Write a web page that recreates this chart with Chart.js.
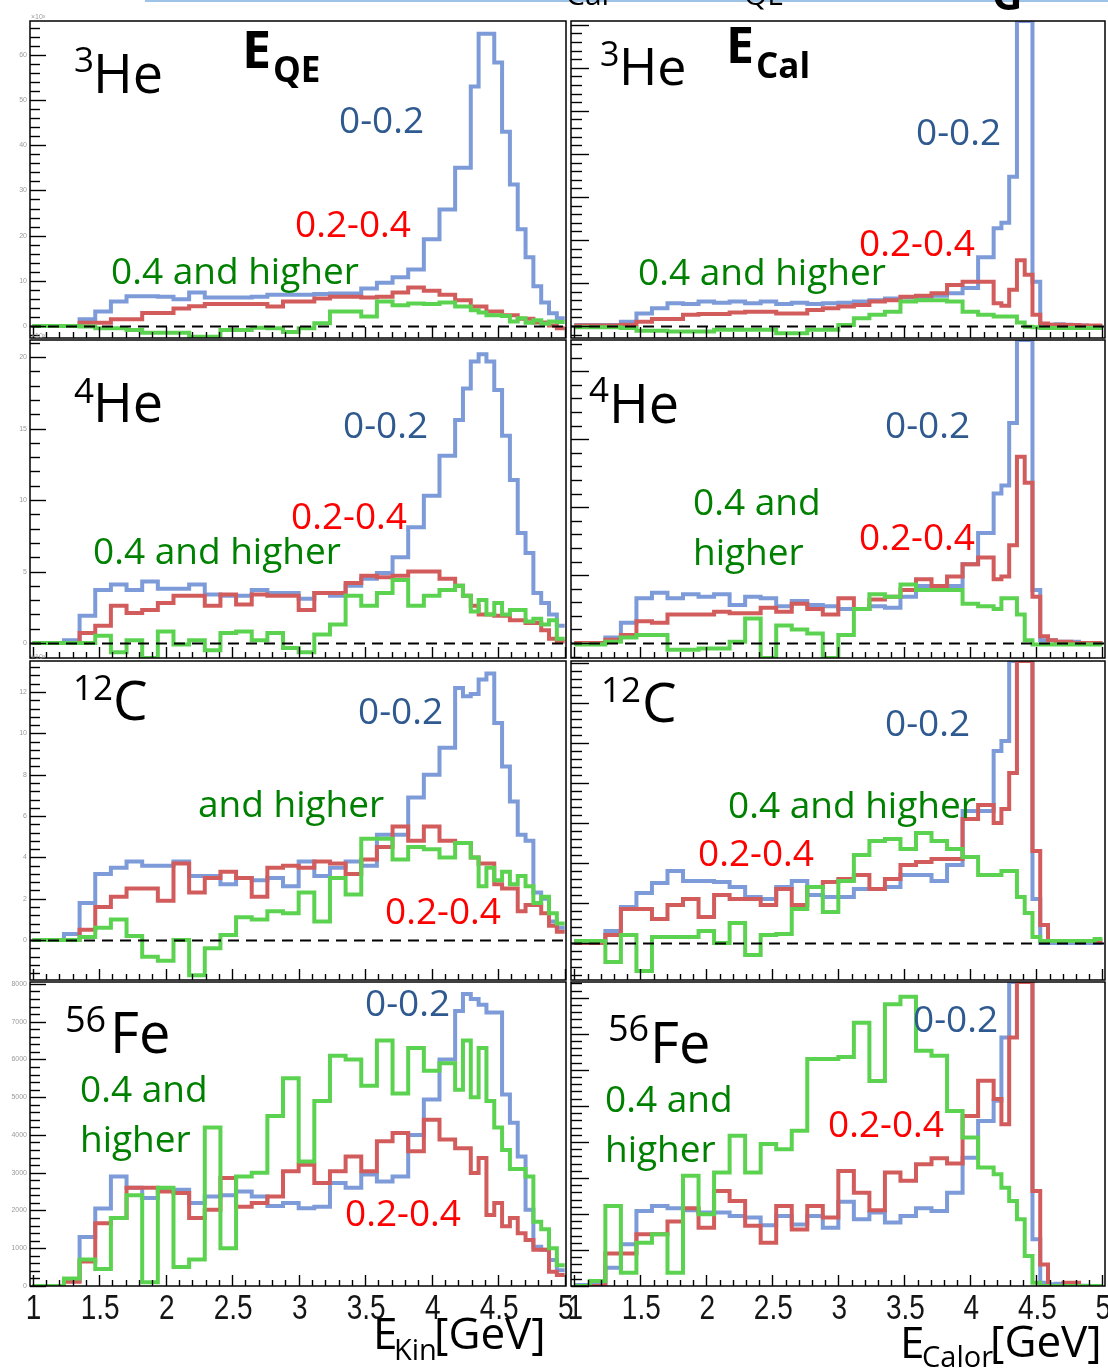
<!DOCTYPE html>
<html><head><meta charset="utf-8">
<script src="https://cdn.jsdelivr.net/npm/chart.js@4.4.1/dist/chart.umd.min.js"></script>
<style>
html,body{margin:0;padding:0;background:#fff;}
body{width:1108px;height:1369px;position:relative;overflow:hidden;}
canvas{position:absolute;left:0;top:0;}
.t{position:absolute;white-space:nowrap;line-height:1;font-family:'Open Sans',sans-serif;}
</style></head><body>
<script>
// ---------- binning (68 equal bins between 1 and 5 GeV) ----------
const X_START = 1.0, X_END = 5.0;

// ---------- data: 3He ----------
const he3QE_lo = [0,0,0,0,0,0,1.5,1.5,3.2,3.2,5.4,5.4,6.6,6.6,6.6,6.6,6.5,6.5,5.9,5.9,7.4,7.4,6.3,6.3,6.3,6.3,6.3,6.3,6.5,6.5,6.9,6.9,6.9,6.9,6.9,6.9,7.1,7.1,7.2,7.2,7.2,7.2,8.3,8.3,9.6,9.6,10.8,10.8,12.5,12.5,19.2,19.2,25.8,25.8,35,35,53,64.7,64.7,58.3,43,31.3,21.4,15.2,8.8,5.2,2.8,1.7];
const he3QE_mid = [0,0,0,0,0,0,0.7,0.7,0.7,0.7,1.5,1.5,1.5,1.5,2.9,2.9,2.9,2.9,3.9,3.9,4.4,4.4,4.9,4.9,4.9,4.9,4.9,4.9,4.9,4.9,4.3,4.3,5.4,5.4,5.4,5.4,6.1,6.1,6.5,6.5,6.5,6.5,6.3,6.3,6.5,6.5,7.4,7.4,8.5,8.5,7.8,7.8,6.9,6.9,5.7,5.7,4.3,4.3,3.2,3.2,2.4,2.4,1.6,1.6,0.8,0.8,0.1,-0.5];
const he3QE_hi = [0,0,0,0,0,0,-0.1,-0.1,-0.5,-0.5,-0.5,-0.5,-0.9,-0.9,-1.5,-1.5,-1.5,-1.5,-1.5,-1.5,-2.4,-2.4,-2.4,-2.4,-0.9,-0.9,-0.9,-0.9,-0.4,-0.4,-0.5,-0.5,-1.3,-1.3,-0.5,-0.5,0.6,0.6,3.2,3.2,3.2,3.2,2.1,2.1,5.4,5.4,4.6,4.6,5.0,5.0,4.9,4.9,5.2,5.2,4.3,4.3,3.5,3.0,2.4,2.4,2.2,1.0,1.7,0.7,1.3,0.5,1.0,0.9];
const he3Cal_lo = [0.2,0.2,0.2,0.2,0.2,0.2,1.0,1.0,2.9,2.9,4.1,4.1,5.3,5.3,5.1,5.1,5.7,5.7,5.4,5.4,5.7,5.7,5.3,5.3,5.7,5.7,5.1,5.1,5.4,5.4,5.1,5.1,5.3,5.3,5.4,5.4,5.7,5.7,6.0,6.0,6.4,6.4,6.6,6.6,6.7,6.7,7.0,7.0,7.6,7.6,8.8,8.8,16,16,22.7,24,34.7,95,95,10.3,0.2,0.3,0.4,0.3,0.2,0.1,0,0];
const he3Cal_mid = [0.1,0.1,0.1,0.1,0.1,0.1,0.3,0.3,1.0,1.0,1.6,1.6,1.6,1.6,2.6,2.6,2.8,2.8,2.8,2.8,3.1,3.1,3.3,3.3,3.3,3.3,2.9,2.9,2.9,2.9,3.7,3.7,4.1,4.1,4.5,4.5,4.9,4.9,5.7,5.7,6.0,6.0,6.8,6.8,7.0,7.0,7.6,7.6,9.5,9.5,10.3,10.3,10.3,10.3,5.3,4.7,8.4,15.3,11.9,2.6,0.6,0.3,0.3,0.2,0.2,0.1,0.1,0.1];
const he3Cal_hi = [-0.3,-0.3,-0.3,-0.3,-0.3,-0.3,-0.5,-0.5,-1.1,-1.1,-1.1,-1.1,-1.3,-1.3,-1.3,-1.3,-1.3,-1.3,-0.9,-0.9,-0.9,-0.9,-0.9,-0.9,-0.9,-0.9,-1.7,-1.7,-1.7,-1.7,-0.9,-0.9,-0.9,-0.9,0.2,0.2,1.8,1.8,2.6,2.6,3.3,3.3,5.7,5.7,6.0,6.0,6.0,6.0,5.7,5.7,3.3,3.3,2.6,2.6,2.2,2.2,2.2,0.8,-0.2,-0.3,-0.5,-0.5,-0.5,-0.5,-0.5,-0.5,-0.5,-0.5];

// ---------- data: 4He ----------
const he4QE_lo = [0,0,0,0,0.2,0.2,1.9,1.9,3.7,3.7,4.1,4.1,3.7,3.7,4.3,4.3,3.8,3.8,3.8,3.8,4.1,4.1,3.4,3.4,3.3,3.3,3.3,3.3,3.7,3.7,3.5,3.5,3.5,3.5,3.1,3.1,3.5,3.5,3.3,3.3,4.0,4.0,4.5,4.5,4.9,4.9,6.0,6.0,8.1,8.1,10.3,10.3,13.1,13.1,15.6,17.8,19.7,20.2,19.7,17.7,14.5,11.4,7.7,6.3,3.5,2.8,2.0,1.2];
const he4QE_mid = [0,0,0,0,0,0,0.7,0.7,1.2,1.2,2.6,2.6,2.1,2.1,2.3,2.3,2.8,2.8,3.3,3.3,3.3,3.3,2.6,2.6,3.4,3.4,2.7,2.7,3.4,3.4,3.3,3.3,3.3,3.3,2.3,2.3,3.5,3.5,3.5,3.5,4.2,4.2,4.7,4.7,4.6,4.6,4.7,4.7,5.0,5.0,5.0,5.0,4.5,4.5,4.0,3.3,2.6,2.0,2.0,1.9,1.9,1.6,1.6,1.4,1.4,0.9,0.3,0.1];
const he4QE_hi = [0,0,0,0,0,0,0,0,0.5,0.5,-0.65,-0.65,0.2,0.2,-1.05,-1.05,0.8,0.8,-0.1,-0.1,0.2,0.2,-0.5,-0.5,0.7,0.7,0.8,0.8,0.2,0.2,0.7,0.7,-0.35,-0.35,-0.65,-0.65,0.6,0.6,1.3,1.3,3.3,3.3,2.6,2.6,3.5,3.5,4.4,4.4,2.6,2.6,3.3,3.3,3.7,3.7,4.0,3.3,2.2,3.0,2.0,2.8,2.0,2.3,2.3,1.5,1.7,1.3,1.6,0.3];
const he4Cal_lo = [0,0,0,0,0.4,0.4,1.5,1.5,3.3,3.3,3.7,3.7,3.3,3.3,3.6,3.6,3.4,3.4,3.6,3.6,2.8,2.8,3.4,3.4,3.3,3.3,2.7,2.7,3.1,3.1,2.8,2.8,2.7,2.7,2.5,2.5,2.5,2.5,2.7,2.7,2.6,2.6,3.4,3.4,4.2,4.2,4.0,4.0,4.2,4.2,5.8,5.8,8.1,8.1,11,11.6,16.2,30,30,3.9,0.2,0.2,0.1,0.1,0.1,0,0,0];
const he4Cal_mid = [0,0,0,0,0.25,0.25,0.6,0.6,1.6,1.6,1.5,1.5,2.1,2.1,2.1,2.1,2.1,2.1,2.3,2.3,2.2,2.2,2.2,2.2,2.6,2.6,2.3,2.3,2.9,2.9,2.5,2.5,2.1,2.1,3.3,3.3,2.5,2.5,3.2,3.2,3.4,3.4,3.9,3.9,4.7,4.7,4.2,4.2,4.9,4.9,5.8,5.8,6.3,6.3,4.7,4.9,7.2,13.7,11.8,3.4,0.5,0.2,0.1,0.1,0,0,0,0];
const he4Cal_hi = [-0.1,-0.1,-0.1,-0.1,0.1,0.1,0.4,0.4,0.6,0.6,0.6,0.6,-0.5,-0.5,-0.5,-0.5,-0.4,-0.4,-0.4,-0.4,0.1,0.1,1.8,1.8,-1.2,-1.2,1.3,1.3,1.0,1.0,0.7,0.7,-1.2,-1.2,0.6,0.6,2.5,2.5,3.6,3.6,3.4,3.4,4.3,4.3,3.9,3.9,3.9,3.9,3.9,3.9,2.9,2.9,2.7,2.7,2.5,3.3,3.3,2.1,0.2,-0.1,-0.1,-0.1,-0.1,-0.1,-0.1,-0.1,-0.1,-0.1];

// ---------- data: 12C ----------
const c12QE_lo = [0,0,0,0,0.3,0.3,1.8,1.8,3.2,3.2,3.5,3.5,3.8,3.8,3.6,3.6,3.6,3.6,3.8,3.8,3.1,3.1,3.1,3.1,2.7,2.7,3.0,3.0,2.9,2.9,3.0,3.0,2.6,2.6,3.8,3.8,3.1,3.1,3.5,3.5,3.8,3.8,3.6,3.6,5.1,5.1,5.1,5.1,6.9,6.9,8.0,8.0,9.3,9.3,12.2,11.8,11.9,12.6,12.9,10.5,8.4,6.7,5.1,4.8,2.3,2.0,0.9,0.6];
const c12QE_mid = [0,0,0,0,0,0,0.5,0.5,1.6,1.6,2.1,2.1,2.5,2.5,2.5,2.5,1.9,1.9,3.7,3.7,2.3,2.3,3.0,3.0,3.3,3.3,3.0,3.0,2.1,2.1,3.5,3.5,3.6,3.6,3.5,3.5,3.8,3.8,3.7,3.7,3.2,3.2,3.9,3.9,4.5,4.5,5.5,5.5,4.8,4.8,5.5,5.5,4.8,4.8,4.7,4.7,4.0,3.7,3.7,2.7,2.5,2.5,1.4,1.7,1.7,1.3,0.7,0.4];
const c12QE_hi = [0,0,0,0,0,0,0.15,0.15,0.6,0.6,1.0,1.0,0.2,0.2,-0.8,-0.8,-1.0,-1.0,0,0,-1.7,-1.7,-0.4,-0.4,0.25,0.25,1.1,1.1,1.0,1.0,1.4,1.4,1.3,1.3,2.3,2.3,0.9,0.9,3.0,3.0,2.2,2.2,4.9,4.9,4.9,4.9,3.9,3.9,4.5,4.5,4.4,4.4,4.0,4.0,4.7,4.7,4.0,2.6,3.5,2.9,3.3,2.7,3.1,2.6,1.8,2.1,1.3,0.8];
const c12Cal_lo = [0.1,0.1,0.1,0.1,0.6,0.6,1.8,1.8,2.5,2.5,3.0,3.0,3.6,3.6,3.1,3.1,3.1,3.1,3.05,3.05,2.8,2.8,2.3,2.3,2.2,2.2,2.8,2.8,3.1,3.1,2.4,2.4,2.3,2.3,2.3,2.3,2.7,2.7,2.7,2.7,2.8,2.8,3.4,3.4,3.4,3.4,3.1,3.1,3.9,3.9,6.6,6.6,6.6,6.6,9.6,10.1,20,20,20,2.2,0,0,0,0,0,0,0,0];
const c12Cal_mid = [0,0,0,0,0.4,0.4,1.7,1.7,1.7,1.7,1.2,1.2,1.9,1.9,2.2,2.2,1.3,1.3,2.4,2.4,2.2,2.2,2.2,2.2,1.9,1.9,2.7,2.7,1.9,1.9,2.8,2.8,3.05,3.05,3.2,3.2,3.4,3.4,2.7,2.7,3.2,3.2,3.9,3.9,4.05,4.05,4.2,4.2,4.2,4.2,6.2,6.2,6.9,6.9,6.0,6.7,8.5,20,20,4.6,0.9,0.1,0.1,0.1,0.1,0.1,0.1,0.1];
const c12Cal_hi = [0.1,0.1,0.1,0.1,-0.95,-0.95,0.4,0.4,-1.4,-1.4,0.3,0.3,0.3,0.3,0.3,0.3,0.6,0.6,0,0,1.0,1.0,-0.6,-0.6,0.4,0.4,0.45,0.45,1.7,1.7,2.8,2.8,1.55,1.55,3.1,3.1,4.4,4.4,5.1,5.1,5.2,5.2,4.7,4.7,5.5,5.5,5.1,5.1,4.7,4.7,4.3,4.3,3.4,3.4,3.4,3.6,3.6,2.3,1.5,0.3,0.1,0.1,0.1,0.1,0.1,0.1,0.1,0.2];

// ---------- data: 56Fe ----------
const fe56QE_lo = [0,0,0,0,150,150,1300,1300,2050,2050,2900,2900,2600,2600,2330,2330,2550,2550,2550,2550,2200,2200,2370,2370,2400,2400,2500,2500,2370,2370,2120,2120,2200,2200,2060,2060,2100,2100,2730,2730,2600,2600,2950,2950,2770,2770,2900,2900,4000,4000,4940,4940,6000,6000,7280,7730,7600,7450,7240,7240,5070,4320,3430,2020,1040,960,690,420];
const fe56QE_mid = [0,0,0,0,110,110,650,650,1660,1660,1800,1800,2600,2600,2600,2600,2500,2500,2460,2460,1800,1800,2020,2020,2860,2860,2100,2100,2200,2200,2370,2370,3040,3040,3210,3210,2730,2730,3040,3040,3430,3430,3040,3040,3830,3830,4050,4050,3570,3570,4400,4400,3880,3880,3650,3650,2990,3390,1880,2200,1580,1800,1400,1220,960,960,380,290];
const fe56QE_hi = [0,0,0,0,200,200,700,700,450,450,1800,1800,2400,2400,100,100,2600,2600,500,500,700,700,4200,4200,1000,1000,2900,2900,3000,3000,4500,4500,5500,5500,3300,3300,4900,4900,6100,6100,6000,6000,5300,5300,6500,6500,5100,5100,6300,6300,5700,5700,5900,5900,5200,6500,5000,6300,4900,4200,3600,3100,3100,2900,1700,1500,1000,550];
const fe56Cal_lo = [30,30,30,30,510,510,1160,1160,2080,2080,2220,2220,2160,2160,2100,2100,2040,2040,2040,2040,1940,1940,1900,1900,1690,1690,1940,1940,1710,1710,1940,1940,1620,1620,2340,2340,1850,1850,2040,2040,1760,1760,1940,1940,2160,2160,2080,2080,2590,2590,3560,3560,4580,4580,5140,6900,12000,12000,12000,1300,90,50,60,40,20,10,0,0];
const fe56Cal_mid = [0,0,0,0,900,900,900,900,1440,1440,1440,1440,1790,1790,2160,2160,1620,1620,2640,2640,2360,2360,1670,1670,1200,1200,2220,2220,1570,1570,2220,2220,1900,1900,3190,3190,2590,2590,2100,2100,3150,3150,2920,2920,3380,3380,3550,3550,3400,3400,4720,4720,5700,5700,5190,4490,6900,12000,12000,2640,600,0,0,90,90,0,0,0];
const fe56Cal_hi = [0,0,140,140,2220,2220,370,370,1200,1200,1440,1440,370,370,3060,3060,1990,1990,3150,3150,4170,4170,3150,3150,3940,3940,3800,3800,4310,4310,6300,6300,6300,6300,6360,6360,7310,7310,5690,5690,7820,7820,8030,8030,6530,6530,6390,6390,4860,4860,4120,4120,3290,3290,3100,2730,2360,1850,830,90,0,0,0,0,0,0,0,0];

// ---------- axis tick labels ----------
const xTickLabels = [1, 1.5, 2, 2.5, 3, 3.5, 4, 4.5, 5];

// ---------- layout / styles ----------
const W = 1108, H = 1369;
const COL = {
  L: {left: 30, right: 566, xr: [0.98, 5.01], tick: [16, 10]},
  R: {left: 571, right: 1105, xr: [0.975, 5.02], tick: [18, 11]}
};
const ROWS = [{top: 21, bottom: 338}, {top: 340, bottom: 658}, {top: 661, bottom: 980}, {top: 982, bottom: 1286}];
const COLORS = {lo: '#7d9bd8', mid: '#d25c5c', hi: '#5cd350'};

const panels = [
  {col: 'L', row: 0, yr: [-2.65, 67.5], major: 10, minor: 2, zero: true, ylab: true, xlab: false, s: [he3QE_lo, he3QE_mid, he3QE_hi]},
  {col: 'R', row: 0, yr: [-2.8, 70.9], major: 10, minor: 2, zero: true, ylab: false, xlab: false, s: [he3Cal_lo, he3Cal_mid, he3Cal_hi]},
  {col: 'L', row: 1, yr: [-1.05, 21.2], major: 5, minor: 1, zero: true, ylab: true, xlab: false, s: [he4QE_lo, he4QE_mid, he4QE_hi]},
  {col: 'R', row: 1, yr: [-1.1, 22.3], major: 5, minor: 1, zero: true, ylab: false, xlab: false, s: [he4Cal_lo, he4Cal_mid, he4Cal_hi]},
  {col: 'L', row: 2, yr: [-1.93, 13.5], major: 2, minor: 0.4, zero: true, ylab: true, xlab: false, s: [c12QE_lo, c12QE_mid, c12QE_hi]},
  {col: 'R', row: 2, yr: [-1.85, 14.1], major: 2, minor: 0.4, zero: true, ylab: false, xlab: false, s: [c12Cal_lo, c12Cal_mid, c12Cal_hi]},
  {col: 'L', row: 3, yr: [0, 8050], major: 1000, minor: 200, zero: false, ylab: true, xlab: true, s: [fe56QE_lo, fe56QE_mid, fe56QE_hi]},
  {col: 'R', row: 3, yr: [0, 8440], major: 1000, minor: 200, zero: false, ylab: false, xlab: true, s: [fe56Cal_lo, fe56Cal_mid, fe56Cal_hi]}
];

function steps(values, lo, hi) {
  const w = (X_END - X_START) / values.length;
  const pts = values.map((v, i) => ({x: X_START + i * w, y: Math.max(lo, Math.min(hi, v))}));
  pts.push({x: X_END, y: pts[pts.length - 1].y});
  return pts;
}
function multiples(lo, hi, step) {
  const out = [];
  for (let k = Math.ceil(lo / step - 1e-9); k * step <= hi + 1e-9; k++) out.push(+(k * step).toFixed(6));
  return out;
}

const rootPlugin = {
  id: 'rootFrame',
  afterDatasetsDraw(chart, args, o) {
    const {ctx, chartArea: a, scales: {x, y}} = chart;
    ctx.save();
    if (o.zero) {
      const y0 = Math.round(y.getPixelForValue(0)) + 0.5;
      ctx.setLineDash([11, 7]); ctx.lineWidth = 2; ctx.strokeStyle = '#000';
      ctx.beginPath(); ctx.moveTo(a.left, y0); ctx.lineTo(a.right, y0); ctx.stroke();
      ctx.setLineDash([]);
    }
    ctx.strokeStyle = '#000'; ctx.lineWidth = 1.5;
    ctx.strokeRect(a.left, a.top, a.right - a.left, a.bottom - a.top);
    // y ticks
    ctx.lineWidth = 1.4;
    for (const v of multiples(y.min, y.max, o.minor)) {
      const py = Math.round(y.getPixelForValue(v)) + 0.5;
      const isMaj = Math.abs(v / o.major - Math.round(v / o.major)) < 1e-6;
      const len = isMaj ? o.tick[0] : o.tick[1];
      ctx.beginPath(); ctx.moveTo(a.left, py); ctx.lineTo(a.left + len, py); ctx.stroke();
      if (isMaj && o.ylab) {
        ctx.fillStyle = '#9a9a9a'; ctx.font = '7px "Liberation Sans"';
        ctx.textAlign = 'right'; ctx.textBaseline = 'middle';
        ctx.fillText(String(v), a.left - 3, py);
      }
    }
    // x ticks (bottom)
    for (const v of multiples(Math.max(1, x.min), Math.min(5, x.max), 0.1)) {
      const px = Math.round(x.getPixelForValue(v)) + 0.5;
      const isMaj = Math.abs(v * 2 - Math.round(v * 2)) < 1e-6;
      const len = isMaj ? 11 : 6;
      ctx.beginPath(); ctx.moveTo(px, a.bottom); ctx.lineTo(px, a.bottom - len); ctx.stroke();
    }
    if (o.xlab) {
      ctx.fillStyle = '#151515'; ctx.font = '35px "Liberation Sans"';
      ctx.textAlign = 'center'; ctx.textBaseline = 'alphabetic';
      for (const v of xTickLabels) {
        const px = x.getPixelForValue(v);
        ctx.save(); ctx.translate(px + 1, a.bottom + 33); ctx.scale(0.8, 1);
        ctx.fillText(String(v), 0, 0); ctx.restore();
      }
    }
    if (o.ylab && o.row < 3) {
      ctx.fillStyle = '#9a9a9a'; ctx.font = '7px "Liberation Sans"'; ctx.textAlign = 'left'; ctx.textBaseline = 'alphabetic';
      ctx.fillText('\u00d710\u00b3', a.left + 1, a.top - 2);
    }
    ctx.restore();
  }
};

panels.forEach(p => {
  const c = COL[p.col], r = ROWS[p.row];
  const cv = document.createElement('canvas');
  cv.width = W; cv.height = H; cv.style.width = W + 'px'; cv.style.height = H + 'px';
  document.body.appendChild(cv);
  const names = ['lo', 'mid', 'hi'];
  new Chart(cv.getContext('2d'), {
    type: 'line',
    data: {datasets: p.s.map((vals, i) => ({
      data: steps(vals, p.yr[0], p.yr[1]),
      borderColor: COLORS[names[i]], borderWidth: 4, stepped: true, fill: false,
      pointRadius: 0, borderJoinStyle: 'miter', borderCapStyle: 'butt', order: 2 - i
    }))},
    options: {
      animation: false, responsive: false, devicePixelRatio: 1, events: [],
      layout: {padding: {left: c.left, top: r.top, right: W - c.right, bottom: H - r.bottom}},
      plugins: {legend: {display: false}, tooltip: {enabled: false},
        rootFrame: {zero: p.zero, major: p.major, minor: p.minor, tick: c.tick, ylab: p.ylab, xlab: p.xlab, row: p.row}},
      scales: {
        x: {type: 'linear', min: c.xr[0], max: c.xr[1], display: false},
        y: {type: 'linear', min: p.yr[0], max: p.yr[1], display: false}
      }
    },
    plugins: [rootPlugin]
  });
});

// ---------- text annotations ----------
const BLUE_T = '#2f5a90', RED_T = '#ff0000', GREEN_T = '#008000', BLACK = '#000';
function txt(s, x, base, fs, color, weight) {
  const d = document.createElement('div');
  d.className = 't'; d.textContent = s;
  d.style.left = x + 'px'; d.style.top = (base - 0.888 * fs) + 'px';
  d.style.fontSize = fs + 'px'; d.style.color = color; d.style.fontWeight = weight || 400;
  document.body.appendChild(d);
}
// top strip
const bar = document.createElement('div');
bar.style.cssText = 'position:absolute;left:145px;top:0;width:963px;height:2px;background:#9dc3e6;';
document.body.appendChild(bar);
txt('Cal', 566, 6, 30, BLACK); txt('QE', 744, 6, 30, BLACK); txt('G', 992, 10, 42, BLACK, 700);

// nucleus labels
txt('3', 74, 72, 35, BLACK); txt('He', 93, 93, 54, BLACK);
txt('3', 600, 66, 34, BLACK); txt('He', 619, 85, 52, BLACK);
txt('4', 74, 403, 35, BLACK); txt('He', 93, 422, 54, BLACK);
txt('4', 589, 402, 35, BLACK); txt('He', 609, 423, 54, BLACK);
txt('12', 73, 700, 35, BLACK); txt('C', 113, 720, 55, BLACK);
txt('12', 601, 702, 35, BLACK); txt('C', 642, 722, 55, BLACK);
txt('56', 65, 1033, 36, BLACK); txt('Fe', 110, 1053, 56, BLACK);
txt('56', 608, 1042, 36, BLACK); txt('Fe', 650, 1063, 56, BLACK);
// E_QE / E_Cal
txt('E', 242, 68, 52, BLACK, 700); txt('QE', 273, 82, 35, BLACK, 700);
txt('E', 726, 63, 50, BLACK, 700); txt('Cal', 756, 78, 35, BLACK, 700);
// series labels
txt('0-0.2', 339, 133, 37, BLUE_T); txt('0.2-0.4', 295, 237, 37, RED_T); txt('0.4 and higher', 111, 284, 37, GREEN_T);
txt('0-0.2', 916, 145, 37, BLUE_T); txt('0.2-0.4', 859, 256, 37, RED_T); txt('0.4 and higher', 638, 285, 37, GREEN_T);
txt('0-0.2', 343, 438, 37, BLUE_T); txt('0.2-0.4', 291, 529, 37, RED_T); txt('0.4 and higher', 93, 564, 37, GREEN_T);
txt('0-0.2', 885, 438, 37, BLUE_T); txt('0.4 and', 693, 515, 37, GREEN_T); txt('higher', 693, 565, 37, GREEN_T); txt('0.2-0.4', 859, 550, 37, RED_T);
txt('0-0.2', 358, 724, 37, BLUE_T); txt('and higher', 198, 817, 37, GREEN_T); txt('0.2-0.4', 385, 924, 37, RED_T);
txt('0-0.2', 885, 736, 37, BLUE_T); txt('0.4 and higher', 728, 818, 37, GREEN_T); txt('0.2-0.4', 698, 866, 37, RED_T);
txt('0-0.2', 365, 1016, 37, BLUE_T); txt('0.4 and', 80, 1102, 37, GREEN_T); txt('higher', 80, 1152, 37, GREEN_T); txt('0.2-0.4', 345, 1226, 37, RED_T);
txt('0-0.2', 913, 1032, 37, BLUE_T); txt('0.4 and', 605, 1112, 37, GREEN_T); txt('higher', 605, 1162, 37, GREEN_T); txt('0.2-0.4', 828, 1137, 37, RED_T);
// axis titles
txt('E', 373, 1349, 44, BLACK); txt('Kin', 394, 1360, 29, BLACK); txt('[GeV]', 434, 1349, 44, BLACK);
txt('E', 900, 1358, 44, BLACK); txt('Calor', 922, 1367, 29, BLACK); txt('[GeV]', 990, 1357, 44, BLACK);
</script>
</body></html>
